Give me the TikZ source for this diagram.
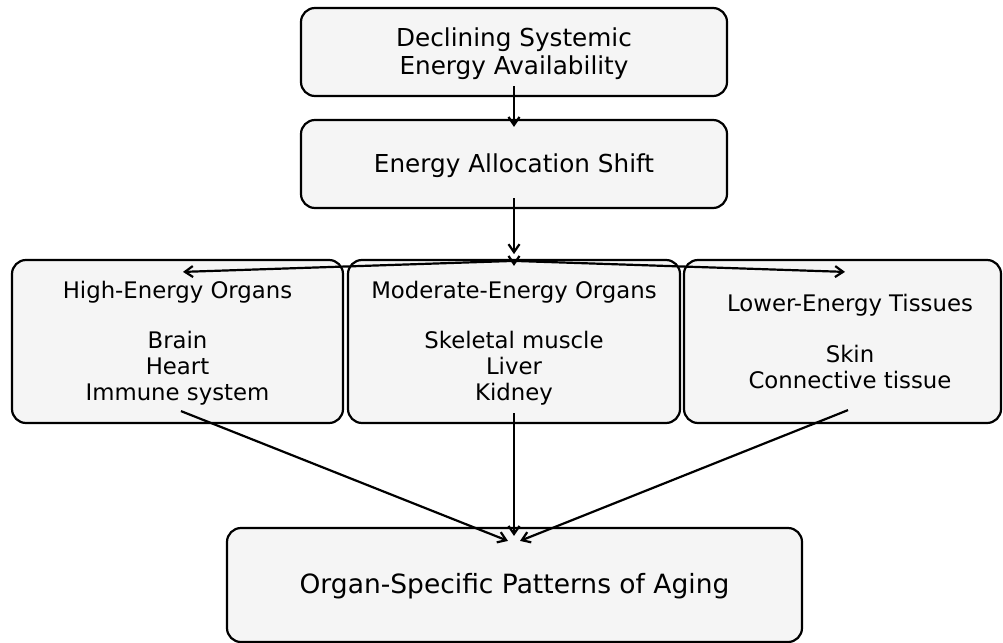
\documentclass[tikz,border=0pt]{standalone}
\usepackage{fontspec}
\setmainfont{DejaVu Sans}
\usetikzlibrary{arrows.meta,calc}
\definecolor{boxfill}{RGB}{245,245,245}
\tikzset{
  box/.style={draw=black, fill=boxfill, line width=2.2pt, rounded corners=14pt, inner sep=0pt, align=center},
  arr/.style={-{Straight Barb[length=8pt,width=11pt]}, line width=2.2pt},
  toptext/.style={font=\fontsize{24.7}{28.4}\selectfont, align=center, inner sep=0pt},
  rowtext/.style={font=\fontsize{22.8}{26}\selectfont, align=center, inner sep=0pt},
  bigtext/.style={font=\fontsize{26.5}{30}\selectfont, align=center, inner sep=0pt},
}
\begin{document}
\begin{tikzpicture}[x=1pt,y=-1pt]
\useasboundingbox (0,0) rectangle (1003,642);
\begin{scope}
\clip (0,0) rectangle (1003,642);
\node[box, minimum width=426pt, minimum height=88pt] (top) at (514,52) {};
\node[box, minimum width=426pt, minimum height=88pt] (alloc) at (514,164) {};
\node[box, minimum width=331pt, minimum height=163pt] (high) at (177.5,341.5) {};
\node[box, minimum width=332pt, minimum height=163pt] (mod) at (514,341.5) {};
\node[box, minimum width=317pt, minimum height=163pt] (low) at (842.5,341.5) {};
\node[box, minimum width=575pt, minimum height=114pt] (aging) at (514.5,585) {};
\end{scope}
\node[toptext] (toptxt) at ($(top.center)+(0,1.5)$) {Declining Systemic\\Energy Availability};
\node[toptext] (alloctxt) at ($(alloc.center)+(0,1.5)$) {Energy Allocation Shift};
\node[rowtext] (hightxt) at ($(high.center)+(0,1.5)$) {High-Energy Organs\\[24pt]Brain\\Heart\\Immune system};
\node[rowtext] (modtxt) at ($(mod.center)+(0,1.5)$) {Moderate-Energy Organs\\[24pt]Skeletal muscle\\Liver\\Kidney};
\node[rowtext] (lowtxt) at (850,341) {Lower-Energy Tissues\\[25pt]Skin\\Connective tissue};
\node[bigtext] (agingtxt) at ($(aging.center)+(0,1)$) {Organ-Specific Patterns of Aging};
% connector points
\coordinate (split) at ($(mod.north)+(0,2)$);
\coordinate (tohigh) at ($(high.north)+(5.5,13)$);
\coordinate (tomod) at ($(mod.north)+(0,7)$);
\coordinate (tolow) at ($(low.north)+(2.5,13)$);
\coordinate (fromhigh) at ($(high.south)+(3.5,-13)$);
\coordinate (frommod) at ($(mod.south)+(0,-11)$);
\coordinate (fromlow) at ($(low.south)+(5.5,-14)$);
\coordinate (inaging) at ($(aging.north)+(-0.5,9)$);
\draw[arr] ($(top.south)+(0,-11)$) -- ($(alloc.north)+(0,8)$);
\draw[arr] ($(alloc.south)+(0,-11)$) -- ($(alloc.south)+(0,45)$);
\draw[arr] (split) -- (tohigh);
\draw[arr] (split) -- (tolow);
\draw[arr] (split) -- (tomod);
\draw[arr] (fromhigh) -- ($(inaging)+(-6,5)$);
\draw[arr] (frommod) -- (inaging);
\draw[arr] (fromlow) -- ($(inaging)+(6,5)$);
\end{tikzpicture}
\end{document}
